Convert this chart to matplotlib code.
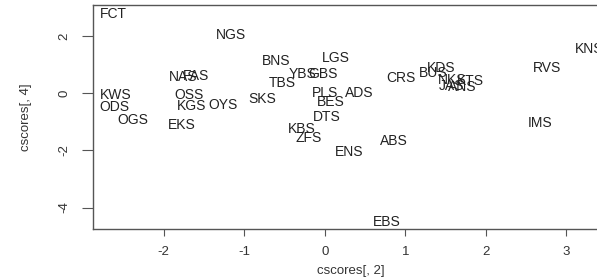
import matplotlib
matplotlib.use("Agg")
import matplotlib.pyplot as plt

labels = ["FCT", "NGS", "BNS", "LGS", "YBS", "GBS", "TBS", "SKS", "PLS", "ADS",
          "BES", "DTS", "KBS", "ZFS", "ENS", "ABS", "EBS", "IMS", "RVS", "KNS",
          "KDS", "BUS", "CRS", "NKS", "KTS", "JAS", "ANS", "NAS", "FAS", "OSS",
          "KGS", "OYS", "KWS", "ODS", "OGS", "EKS"]
xs = [-2.63, -1.17, -0.61, 0.14, -0.27, -0.02, -0.53, -0.78, 0.00, 0.43,
      0.08, 0.02, -0.29, -0.20, 0.30, 0.86, 0.77, 2.67, 2.76, 3.28,
      1.44, 1.35, 0.95, 1.58, 1.81, 1.58, 1.71, -1.76, -1.60, -1.69,
      -1.65, -1.27, -2.60, -2.62, -2.39, -1.78]
ys = [2.76, 2.03, 1.13, 1.21, 0.66, 0.66, 0.34, -0.21, 0.02, 0.02,
      -0.30, -0.83, -1.26, -1.58, -2.05, -1.67, -4.50, -1.06, 0.89, 1.53,
      0.89, 0.69, 0.54, 0.45, 0.44, 0.24, 0.21, 0.57, 0.59, -0.05,
      -0.44, -0.40, -0.05, -0.48, -0.94, -1.12]
xticks = [-2, -1, 0, 1, 2, 3]
yticks = [-4, -2, 0, 2]

plt.rcParams['font.family'] = ['Liberation Sans', 'DejaVu Sans']

fig = plt.figure(figsize=(5.97, 2.8), dpi=100)
ax = fig.add_axes([93 / 597, 51 / 280, 515 / 597, 224 / 280])

for lab, x, y in zip(labels, xs, ys):
    ax.text(x, y, lab, ha="center", va="center", fontsize=10, color="#222222")

ax.set_xlim(-2.88, 3.52)
ax.set_ylim(-4.75, 3.08)
ax.set_xticks(xticks)
ax.set_yticks(yticks)
ax.set_xticklabels([str(t) for t in xticks])
ax.set_yticklabels([str(t) for t in yticks], rotation=90, va="center")

for s in ax.spines.values():
    s.set_color("#555555")
    s.set_linewidth(1.0)

ax.tick_params(axis="x", direction="out", length=5, width=0.8, color="#555555",
               labelsize=9.5, labelcolor="#333333", pad=7)
ax.tick_params(axis="y", direction="out", length=8, width=0.8, color="#555555",
               labelsize=9.5, labelcolor="#333333", pad=8)

ax.set_xlabel("cscores[, 2]", fontsize=9.5, color="#333333", labelpad=5)
ax.set_ylabel("cscores[, 4]", fontsize=9.5, color="#333333", labelpad=19)

fig.savefig("out.png", dpi=100)
